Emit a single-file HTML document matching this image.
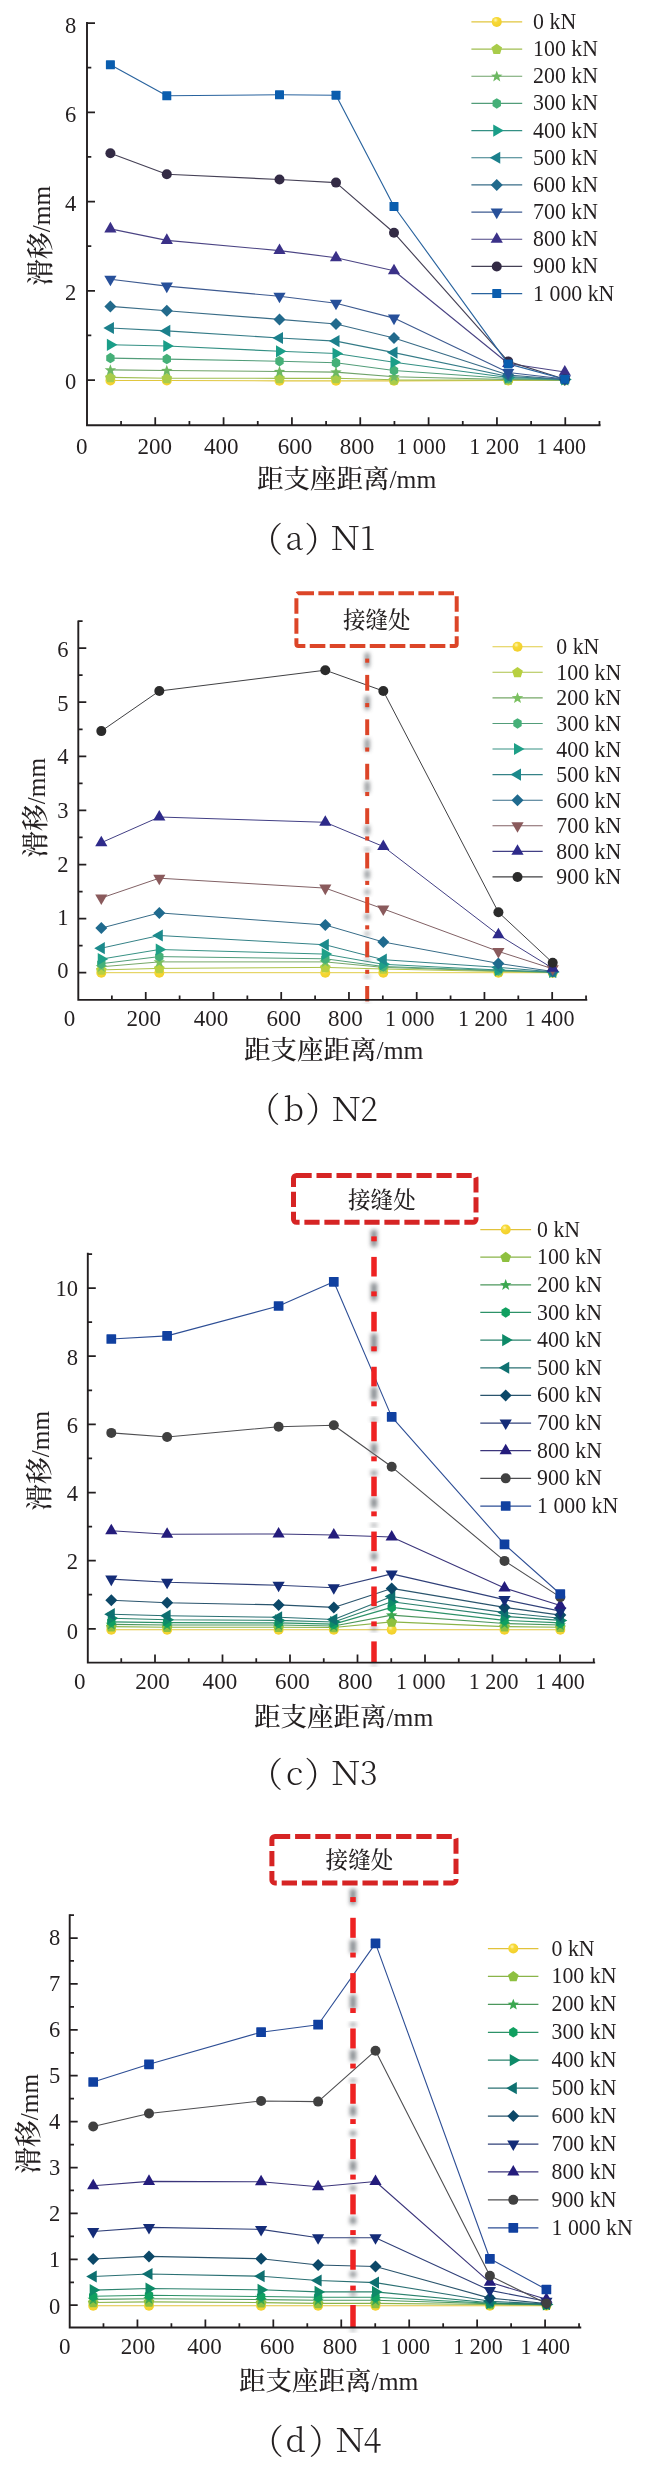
<!DOCTYPE html>
<html lang="zh"><head><meta charset="utf-8"><title>滑移分布</title>
<style>
html,body{margin:0;padding:0;background:#fff}
svg{display:block;opacity:0.999}
text{font-family:"Liberation Serif","Noto Serif CJK SC",serif;fill:#231f20}
.cj{font-family:"Liberation Serif","Noto Serif CJK SC",serif;font-weight:500}
.lt{font-family:"Liberation Serif",serif;font-weight:400}
.cap{font-family:"Noto Serif CJK SC","Liberation Serif",serif;font-weight:300}
</style></head><body>
<svg width="645" height="2482" viewBox="0 0 645 2482">
<defs>
<radialGradient id="gy" cx="0.38" cy="0.32" r="0.7"><stop offset="0" stop-color="#fff6b8"/><stop offset="0.35" stop-color="#f7d936"/><stop offset="1" stop-color="#f2cf2c"/></radialGradient>
<filter id="bl" x="-150%" y="-60%" width="400%" height="220%"><feGaussianBlur stdDeviation="2"/></filter>
</defs>
<rect width="645" height="2482" fill="#fff"/>
<polyline points="110.4,380.5 166.8,380.5 279.5,380.8 336.0,380.8 394.0,380.8 508.2,380.5 564.8,380.5" fill="none" stroke="#e1c63e" stroke-width="1.15" stroke-linejoin="round"/>
<circle cx="110.40" cy="380.50" r="5.00" fill="url(#gy)"/>
<circle cx="166.80" cy="380.50" r="5.00" fill="url(#gy)"/>
<circle cx="279.50" cy="380.80" r="5.00" fill="url(#gy)"/>
<circle cx="336.00" cy="380.80" r="5.00" fill="url(#gy)"/>
<circle cx="394.00" cy="380.80" r="5.00" fill="url(#gy)"/>
<circle cx="508.20" cy="380.50" r="5.00" fill="url(#gy)"/>
<circle cx="564.80" cy="380.50" r="5.00" fill="url(#gy)"/>
<polyline points="110.4,377.4 166.8,378.3 279.5,378.3 336.0,378.3 394.0,379.8 508.2,380.0 564.8,380.0" fill="none" stroke="#a0be51" stroke-width="1.15" stroke-linejoin="round"/>
<polygon points="110.40,372.05 115.77,375.95 113.72,382.27 107.08,382.27 105.03,375.95" fill="#a9cc4a"/>
<polygon points="166.80,372.95 172.17,376.85 170.12,383.17 163.48,383.17 161.43,376.85" fill="#a9cc4a"/>
<polygon points="279.50,372.95 284.87,376.85 282.82,383.17 276.18,383.17 274.13,376.85" fill="#a9cc4a"/>
<polygon points="336.00,372.95 341.37,376.85 339.32,383.17 332.68,383.17 330.63,376.85" fill="#a9cc4a"/>
<polygon points="394.00,374.45 399.37,378.35 397.32,384.67 390.68,384.67 388.63,378.35" fill="#a9cc4a"/>
<polygon points="508.20,374.65 513.57,378.55 511.52,384.87 504.88,384.87 502.83,378.55" fill="#a9cc4a"/>
<polygon points="564.80,374.65 570.17,378.55 568.12,384.87 561.48,384.87 559.43,378.55" fill="#a9cc4a"/>
<polyline points="110.4,369.9 166.8,370.5 279.5,371.5 336.0,372.1 394.0,376.7 508.2,379.5 564.8,380.0" fill="none" stroke="#6ea269" stroke-width="1.15" stroke-linejoin="round"/>
<polygon points="110.40,364.20 111.88,368.16 116.11,368.35 112.80,370.98 113.93,375.05 110.40,372.72 106.87,375.05 108.00,370.98 104.69,368.35 108.92,368.16" fill="#6db862"/>
<polygon points="166.80,364.80 168.28,368.76 172.51,368.95 169.20,371.58 170.33,375.65 166.80,373.32 163.27,375.65 164.40,371.58 161.09,368.95 165.32,368.76" fill="#6db862"/>
<polygon points="279.50,365.80 280.98,369.76 285.21,369.95 281.90,372.58 283.03,376.65 279.50,374.32 275.97,376.65 277.10,372.58 273.79,369.95 278.02,369.76" fill="#6db862"/>
<polygon points="336.00,366.40 337.48,370.36 341.71,370.55 338.40,373.18 339.53,377.25 336.00,374.92 332.47,377.25 333.60,373.18 330.29,370.55 334.52,370.36" fill="#6db862"/>
<polygon points="394.00,371.00 395.48,374.96 399.71,375.15 396.40,377.78 397.53,381.85 394.00,379.52 390.47,381.85 391.60,377.78 388.29,375.15 392.52,374.96" fill="#6db862"/>
<polygon points="508.20,373.80 509.68,377.76 513.91,377.95 510.60,380.58 511.73,384.65 508.20,382.32 504.67,384.65 505.80,380.58 502.49,377.95 506.72,377.76" fill="#6db862"/>
<polygon points="564.80,374.30 566.28,378.26 570.51,378.45 567.20,381.08 568.33,385.15 564.80,382.82 561.27,385.15 562.40,381.08 559.09,378.45 563.32,378.26" fill="#6db862"/>
<polyline points="110.4,358.1 166.8,359.1 279.5,361.2 336.0,362.8 394.0,370.5 508.2,378.5 564.8,380.0" fill="none" stroke="#529d79" stroke-width="1.15" stroke-linejoin="round"/>
<polygon points="110.40,352.85 114.58,355.48 114.58,360.73 110.40,363.35 106.22,360.73 106.22,355.48" fill="#45b078"/>
<polygon points="166.80,353.85 170.98,356.48 170.98,361.73 166.80,364.35 162.62,361.73 162.62,356.48" fill="#45b078"/>
<polygon points="279.50,355.95 283.68,358.57 283.68,363.82 279.50,366.45 275.32,363.82 275.32,358.57" fill="#45b078"/>
<polygon points="336.00,357.55 340.18,360.18 340.18,365.43 336.00,368.05 331.82,365.43 331.82,360.18" fill="#45b078"/>
<polygon points="394.00,365.25 398.18,367.88 398.18,373.12 394.00,375.75 389.82,373.12 389.82,367.88" fill="#45b078"/>
<polygon points="508.20,373.25 512.38,375.88 512.38,381.12 508.20,383.75 504.02,381.12 504.02,375.88" fill="#45b078"/>
<polygon points="564.80,374.75 568.98,377.38 568.98,382.62 564.80,385.25 560.62,382.62 560.62,377.38" fill="#45b078"/>
<polyline points="110.4,344.8 166.8,346.0 279.5,351.3 336.0,353.5 394.0,362.2 508.2,377.5 564.8,379.5" fill="none" stroke="#349084" stroke-width="1.15" stroke-linejoin="round"/>
<polygon points="117.44,344.80 106.88,338.70 106.88,350.90" fill="#1a9e88"/>
<polygon points="173.84,346.00 163.28,339.90 163.28,352.10" fill="#1a9e88"/>
<polygon points="286.54,351.30 275.98,345.20 275.98,357.40" fill="#1a9e88"/>
<polygon points="343.04,353.50 332.48,347.40 332.48,359.60" fill="#1a9e88"/>
<polygon points="401.04,362.20 390.48,356.10 390.48,368.30" fill="#1a9e88"/>
<polygon points="515.24,377.50 504.68,371.40 504.68,383.60" fill="#1a9e88"/>
<polygon points="571.84,379.50 561.28,373.40 561.28,385.60" fill="#1a9e88"/>
<polyline points="110.4,328.0 166.8,330.9 279.5,338.0 336.0,341.1 394.0,352.6 508.2,376.5 564.8,379.5" fill="none" stroke="#347b87" stroke-width="1.15" stroke-linejoin="round"/>
<polygon points="103.36,328.00 113.92,321.90 113.92,334.10" fill="#1b808c"/>
<polygon points="159.76,330.90 170.32,324.80 170.32,337.00" fill="#1b808c"/>
<polygon points="272.46,338.00 283.02,331.90 283.02,344.10" fill="#1b808c"/>
<polygon points="328.96,341.10 339.52,335.00 339.52,347.20" fill="#1b808c"/>
<polygon points="386.96,352.60 397.52,346.50 397.52,358.70" fill="#1b808c"/>
<polygon points="501.16,376.50 511.72,370.40 511.72,382.60" fill="#1b808c"/>
<polygon points="557.76,379.50 568.32,373.40 568.32,385.60" fill="#1b808c"/>
<polyline points="110.4,306.4 166.8,310.7 279.5,319.4 336.0,324.0 394.0,338.0 508.2,375.0 564.8,379.5" fill="none" stroke="#396c87" stroke-width="1.15" stroke-linejoin="round"/>
<polygon points="110.40,300.40 116.40,306.40 110.40,312.40 104.40,306.40" fill="#226a8c"/>
<polygon points="166.80,304.70 172.80,310.70 166.80,316.70 160.80,310.70" fill="#226a8c"/>
<polygon points="279.50,313.40 285.50,319.40 279.50,325.40 273.50,319.40" fill="#226a8c"/>
<polygon points="336.00,318.00 342.00,324.00 336.00,330.00 330.00,324.00" fill="#226a8c"/>
<polygon points="394.00,332.00 400.00,338.00 394.00,344.00 388.00,338.00" fill="#226a8c"/>
<polygon points="508.20,369.00 514.20,375.00 508.20,381.00 502.20,375.00" fill="#226a8c"/>
<polygon points="564.80,373.50 570.80,379.50 564.80,385.50 558.80,379.50" fill="#226a8c"/>
<polyline points="110.4,279.3 166.8,286.1 279.5,296.3 336.0,303.2 394.0,318.1 508.2,372.5 564.8,379.0" fill="none" stroke="#3d5a90" stroke-width="1.15" stroke-linejoin="round"/>
<polygon points="110.40,286.34 116.50,275.78 104.30,275.78" fill="#27509a"/>
<polygon points="166.80,293.14 172.90,282.58 160.70,282.58" fill="#27509a"/>
<polygon points="279.50,303.34 285.60,292.78 273.40,292.78" fill="#27509a"/>
<polygon points="336.00,310.24 342.10,299.68 329.90,299.68" fill="#27509a"/>
<polygon points="394.00,325.14 400.10,314.58 387.90,314.58" fill="#27509a"/>
<polygon points="508.20,379.54 514.30,368.98 502.10,368.98" fill="#27509a"/>
<polygon points="564.80,386.04 570.90,375.48 558.70,375.48" fill="#27509a"/>
<polyline points="110.4,228.9 166.8,240.4 279.5,250.6 336.0,257.7 394.0,270.8 508.2,363.5 564.8,372.0" fill="none" stroke="#4b4484" stroke-width="1.15" stroke-linejoin="round"/>
<polygon points="110.40,221.86 116.50,232.42 104.30,232.42" fill="#3b3188"/>
<polygon points="166.80,233.36 172.90,243.92 160.70,243.92" fill="#3b3188"/>
<polygon points="279.50,243.56 285.60,254.12 273.40,254.12" fill="#3b3188"/>
<polygon points="336.00,250.66 342.10,261.22 329.90,261.22" fill="#3b3188"/>
<polygon points="394.00,263.76 400.10,274.32 387.90,274.32" fill="#3b3188"/>
<polygon points="508.20,356.46 514.30,367.02 502.10,367.02" fill="#3b3188"/>
<polygon points="564.80,364.96 570.90,375.52 558.70,375.52" fill="#3b3188"/>
<polyline points="110.4,153.2 166.8,174.3 279.5,179.5 336.0,182.6 394.0,232.8 508.2,361.4 564.8,379.3" fill="none" stroke="#454055" stroke-width="1.15" stroke-linejoin="round"/>
<circle cx="110.40" cy="153.20" r="5.00" fill="#332b45"/>
<circle cx="166.80" cy="174.30" r="5.00" fill="#332b45"/>
<circle cx="279.50" cy="179.50" r="5.00" fill="#332b45"/>
<circle cx="336.00" cy="182.60" r="5.00" fill="#332b45"/>
<circle cx="394.00" cy="232.80" r="5.00" fill="#332b45"/>
<circle cx="508.20" cy="361.40" r="5.00" fill="#332b45"/>
<circle cx="564.80" cy="379.30" r="5.00" fill="#332b45"/>
<polyline points="110.4,64.8 166.8,95.8 279.5,94.8 336.0,95.2 394.0,206.5 508.2,363.9 564.8,379.3" fill="none" stroke="#29639e" stroke-width="1.15" stroke-linejoin="round"/>
<rect x="105.90" y="60.30" width="9.00" height="9.00" rx="0.6" fill="#0a5dae"/>
<rect x="162.30" y="91.30" width="9.00" height="9.00" rx="0.6" fill="#0a5dae"/>
<rect x="275.00" y="90.30" width="9.00" height="9.00" rx="0.6" fill="#0a5dae"/>
<rect x="331.50" y="90.70" width="9.00" height="9.00" rx="0.6" fill="#0a5dae"/>
<rect x="389.50" y="202.00" width="9.00" height="9.00" rx="0.6" fill="#0a5dae"/>
<rect x="503.70" y="359.40" width="9.00" height="9.00" rx="0.6" fill="#0a5dae"/>
<rect x="560.30" y="374.80" width="9.00" height="9.00" rx="0.6" fill="#0a5dae"/>
<path d="M87.00 22.05V425.30H600.55" fill="none" stroke="#231f20" stroke-width="1.90" stroke-linejoin="miter"/>
<path d="M87.00 380.00h8.00M87.00 290.75h8.00M87.00 201.50h8.00M87.00 112.25h8.00M87.00 23.00h8.00M87.00 335.38h4.30M87.00 246.12h4.30M87.00 156.88h4.30M87.00 67.62h4.30M121.07 425.30v-4.30M155.24 425.30v-8.00M189.41 425.30v-4.30M223.58 425.30v-8.00M257.75 425.30v-4.30M291.92 425.30v-8.00M326.09 425.30v-4.30M360.26 425.30v-8.00M394.43 425.30v-4.30M428.60 425.30v-8.00M462.77 425.30v-4.30M496.94 425.30v-8.00M531.11 425.30v-4.30M565.28 425.30v-8.00M599.45 425.30v-4.30" fill="none" stroke="#231f20" stroke-width="1.75"/>
<text transform="translate(76.20 388.60) scale(0.940 1)" font-size="24.00" text-anchor="end">0</text>
<text transform="translate(76.20 300.35) scale(0.940 1)" font-size="24.00" text-anchor="end">2</text>
<text transform="translate(76.20 211.10) scale(0.940 1)" font-size="24.00" text-anchor="end">4</text>
<text transform="translate(76.20 121.85) scale(0.940 1)" font-size="24.00" text-anchor="end">6</text>
<text transform="translate(76.20 32.60) scale(0.940 1)" font-size="24.00" text-anchor="end">8</text>
<text transform="translate(81.70 454.00) scale(0.960 1)" font-size="24.00" text-anchor="middle">0</text>
<text transform="translate(154.80 454.00) scale(0.960 1)" font-size="24.00" text-anchor="middle">200</text>
<text transform="translate(221.20 454.00) scale(0.960 1)" font-size="24.00" text-anchor="middle">400</text>
<text transform="translate(295.00 454.00) scale(0.960 1)" font-size="24.00" text-anchor="middle">600</text>
<text transform="translate(357.10 454.00) scale(0.960 1)" font-size="24.00" text-anchor="middle">800</text>
<text transform="translate(421.10 454.00) scale(0.920 1)" font-size="24.00" text-anchor="middle">1 000</text>
<text transform="translate(494.10 454.00) scale(0.920 1)" font-size="24.00" text-anchor="middle">1 200</text>
<text transform="translate(561.30 454.00) scale(0.920 1)" font-size="24.00" text-anchor="middle">1 400</text>
<text x="257.00" y="487.50" font-size="26.5" class="cj">距支座距离<tspan class="lt" font-size="25.5">/mm</tspan></text>
<text transform="translate(50.10 235.80) rotate(-90)" text-anchor="middle" font-size="26.8" class="cj">滑移<tspan class="lt" font-size="25.3">/mm</tspan></text>
<text class="cap" y="549.80"><tspan x="248.50" dy="1.7" font-size="34.5">（</tspan><tspan x="285.41" dy="-1.7" font-size="32.5">a</tspan><tspan x="304.19" dy="1.7" font-size="34.5">）</tspan><tspan x="330.40" dy="-1.7" font-size="32.5" textLength="29.60" lengthAdjust="spacingAndGlyphs">N</tspan><tspan x="359.97" font-size="32.5">1</tspan></text>
<line x1="471.40" x2="522.20" y1="21.90" y2="21.90" stroke="#e1c63e" stroke-width="1.15"/>
<circle cx="496.75" cy="21.90" r="5.00" fill="url(#gy)"/>
<text transform="translate(533.10 28.95) scale(0.950 1)" font-size="23.00" text-anchor="start">0 kN</text>
<line x1="471.40" x2="522.20" y1="49.07" y2="49.07" stroke="#a0be51" stroke-width="1.15"/>
<polygon points="496.75,43.72 502.12,47.62 500.07,53.94 493.43,53.94 491.38,47.62" fill="#a9cc4a"/>
<text transform="translate(533.10 56.12) scale(0.950 1)" font-size="23.00" text-anchor="start">100 kN</text>
<line x1="471.40" x2="522.20" y1="76.24" y2="76.24" stroke="#6ea269" stroke-width="1.15"/>
<polygon points="496.75,70.54 498.23,74.50 502.46,74.69 499.15,77.32 500.28,81.39 496.75,79.06 493.22,81.39 494.35,77.32 491.04,74.69 495.27,74.50" fill="#6db862"/>
<text transform="translate(533.10 83.29) scale(0.950 1)" font-size="23.00" text-anchor="start">200 kN</text>
<line x1="471.40" x2="522.20" y1="103.41" y2="103.41" stroke="#529d79" stroke-width="1.15"/>
<polygon points="496.75,98.16 500.93,100.78 500.93,106.03 496.75,108.66 492.57,106.03 492.57,100.78" fill="#45b078"/>
<text transform="translate(533.10 110.46) scale(0.950 1)" font-size="23.00" text-anchor="start">300 kN</text>
<line x1="471.40" x2="522.20" y1="130.58" y2="130.58" stroke="#349084" stroke-width="1.15"/>
<polygon points="503.79,130.58 493.23,124.48 493.23,136.68" fill="#1a9e88"/>
<text transform="translate(533.10 137.63) scale(0.950 1)" font-size="23.00" text-anchor="start">400 kN</text>
<line x1="471.40" x2="522.20" y1="157.75" y2="157.75" stroke="#347b87" stroke-width="1.15"/>
<polygon points="489.71,157.75 500.27,151.65 500.27,163.85" fill="#1b808c"/>
<text transform="translate(533.10 164.80) scale(0.950 1)" font-size="23.00" text-anchor="start">500 kN</text>
<line x1="471.40" x2="522.20" y1="184.92" y2="184.92" stroke="#396c87" stroke-width="1.15"/>
<polygon points="496.75,178.92 502.75,184.92 496.75,190.92 490.75,184.92" fill="#226a8c"/>
<text transform="translate(533.10 191.97) scale(0.950 1)" font-size="23.00" text-anchor="start">600 kN</text>
<line x1="471.40" x2="522.20" y1="212.09" y2="212.09" stroke="#3d5a90" stroke-width="1.15"/>
<polygon points="496.75,219.13 502.85,208.57 490.65,208.57" fill="#27509a"/>
<text transform="translate(533.10 219.14) scale(0.950 1)" font-size="23.00" text-anchor="start">700 kN</text>
<line x1="471.40" x2="522.20" y1="239.26" y2="239.26" stroke="#4b4484" stroke-width="1.15"/>
<polygon points="496.75,232.22 502.85,242.78 490.65,242.78" fill="#3b3188"/>
<text transform="translate(533.10 246.31) scale(0.950 1)" font-size="23.00" text-anchor="start">800 kN</text>
<line x1="471.40" x2="522.20" y1="266.43" y2="266.43" stroke="#454055" stroke-width="1.15"/>
<circle cx="496.75" cy="266.43" r="5.00" fill="#332b45"/>
<text transform="translate(533.10 273.48) scale(0.950 1)" font-size="23.00" text-anchor="start">900 kN</text>
<line x1="471.40" x2="522.20" y1="293.60" y2="293.60" stroke="#29639e" stroke-width="1.15"/>
<rect x="492.25" y="289.10" width="9.00" height="9.00" rx="0.6" fill="#0a5dae"/>
<text transform="translate(533.10 300.65) scale(0.950 1)" font-size="23.00" text-anchor="start">1 000 kN</text>
<polyline points="101.3,972.7 159.3,972.7 325.3,972.7 383.3,972.7 498.4,972.7 552.7,972.7" fill="none" stroke="#e1cc45" stroke-width="1.00" stroke-linejoin="round"/>
<circle cx="101.30" cy="972.70" r="5.00" fill="url(#gy)"/>
<circle cx="159.30" cy="972.70" r="5.00" fill="url(#gy)"/>
<circle cx="325.30" cy="972.70" r="5.00" fill="url(#gy)"/>
<circle cx="383.30" cy="972.70" r="5.00" fill="url(#gy)"/>
<circle cx="498.40" cy="972.70" r="5.00" fill="url(#gy)"/>
<circle cx="552.70" cy="972.70" r="5.00" fill="url(#gy)"/>
<polyline points="101.3,969.9 159.3,968.4 325.3,967.4 383.3,969.0 498.4,971.5 552.7,972.5" fill="none" stroke="#adc249" stroke-width="1.00" stroke-linejoin="round"/>
<polygon points="101.30,964.55 106.67,968.45 104.62,974.77 97.98,974.77 95.93,968.45" fill="#b8d040"/>
<polygon points="159.30,963.05 164.67,966.95 162.62,973.27 155.98,973.27 153.93,966.95" fill="#b8d040"/>
<polygon points="325.30,962.05 330.67,965.95 328.62,972.27 321.98,972.27 319.93,965.95" fill="#b8d040"/>
<polygon points="383.30,963.65 388.67,967.55 386.62,973.87 379.98,973.87 377.93,967.55" fill="#b8d040"/>
<polygon points="498.40,966.15 503.77,970.05 501.72,976.37 495.08,976.37 493.03,970.05" fill="#b8d040"/>
<polygon points="552.70,967.15 558.07,971.05 556.02,977.37 549.38,977.37 547.33,971.05" fill="#b8d040"/>
<polyline points="101.3,966.8 159.3,961.9 325.3,961.9 383.3,967.4 498.4,971.0 552.7,972.3" fill="none" stroke="#77a868" stroke-width="1.00" stroke-linejoin="round"/>
<polygon points="101.30,961.10 102.78,965.06 107.01,965.25 103.70,967.88 104.83,971.95 101.30,969.62 97.77,971.95 98.90,967.88 95.59,965.25 99.82,965.06" fill="#7ac060"/>
<polygon points="159.30,956.20 160.78,960.16 165.01,960.35 161.70,962.98 162.83,967.05 159.30,964.72 155.77,967.05 156.90,962.98 153.59,960.35 157.82,960.16" fill="#7ac060"/>
<polygon points="325.30,956.20 326.78,960.16 331.01,960.35 327.70,962.98 328.83,967.05 325.30,964.72 321.77,967.05 322.90,962.98 319.59,960.35 323.82,960.16" fill="#7ac060"/>
<polygon points="383.30,961.70 384.78,965.66 389.01,965.85 385.70,968.48 386.83,972.55 383.30,970.22 379.77,972.55 380.90,968.48 377.59,965.85 381.82,965.66" fill="#7ac060"/>
<polygon points="498.40,965.30 499.88,969.26 504.11,969.45 500.80,972.08 501.93,976.15 498.40,973.82 494.87,976.15 496.00,972.08 492.69,969.45 496.92,969.26" fill="#7ac060"/>
<polygon points="552.70,966.60 554.18,970.56 558.41,970.75 555.10,973.38 556.23,977.45 552.70,975.12 549.17,977.45 550.30,973.38 546.99,970.75 551.22,970.56" fill="#7ac060"/>
<polyline points="101.3,963.7 159.3,956.6 325.3,958.8 383.3,966.5 498.4,970.5 552.7,972.2" fill="none" stroke="#529d79" stroke-width="1.00" stroke-linejoin="round"/>
<polygon points="101.30,958.45 105.48,961.08 105.48,966.33 101.30,968.95 97.12,966.33 97.12,961.08" fill="#45b078"/>
<polygon points="159.30,951.35 163.48,953.98 163.48,959.23 159.30,961.85 155.12,959.23 155.12,953.98" fill="#45b078"/>
<polygon points="325.30,953.55 329.48,956.17 329.48,961.42 325.30,964.05 321.12,961.42 321.12,956.17" fill="#45b078"/>
<polygon points="383.30,961.25 387.48,963.88 387.48,969.12 383.30,971.75 379.12,969.12 379.12,963.88" fill="#45b078"/>
<polygon points="498.40,965.25 502.58,967.88 502.58,973.12 498.40,975.75 494.22,973.12 494.22,967.88" fill="#45b078"/>
<polygon points="552.70,966.95 556.88,969.58 556.88,974.83 552.70,977.45 548.52,974.83 548.52,969.58" fill="#45b078"/>
<polyline points="101.3,959.1 159.3,949.5 325.3,954.1 383.3,964.3 498.4,970.0 552.7,972.0" fill="none" stroke="#379284" stroke-width="1.00" stroke-linejoin="round"/>
<polygon points="108.34,959.10 97.78,953.00 97.78,965.20" fill="#1fa088"/>
<polygon points="166.34,949.50 155.78,943.40 155.78,955.60" fill="#1fa088"/>
<polygon points="332.34,954.10 321.78,948.00 321.78,960.20" fill="#1fa088"/>
<polygon points="390.34,964.30 379.78,958.20 379.78,970.40" fill="#1fa088"/>
<polygon points="505.44,970.00 494.88,963.90 494.88,976.10" fill="#1fa088"/>
<polygon points="559.74,972.00 549.18,965.90 549.18,978.10" fill="#1fa088"/>
<polyline points="101.3,948.2 159.3,935.5 325.3,944.8 383.3,959.7 498.4,967.4 552.7,971.8" fill="none" stroke="#358287" stroke-width="1.00" stroke-linejoin="round"/>
<polygon points="94.26,948.20 104.82,942.10 104.82,954.30" fill="#1c8a8c"/>
<polygon points="152.26,935.50 162.82,929.40 162.82,941.60" fill="#1c8a8c"/>
<polygon points="318.26,944.80 328.82,938.70 328.82,950.90" fill="#1c8a8c"/>
<polygon points="376.26,959.70 386.82,953.60 386.82,965.80" fill="#1c8a8c"/>
<polygon points="491.36,967.40 501.92,961.30 501.92,973.50" fill="#1c8a8c"/>
<polygon points="545.66,971.80 556.22,965.70 556.22,977.90" fill="#1c8a8c"/>
<polyline points="101.3,928.1 159.3,912.9 325.3,925.0 383.3,942.0 498.4,963.4 552.7,971.5" fill="none" stroke="#376c88" stroke-width="1.00" stroke-linejoin="round"/>
<polygon points="101.30,922.10 107.30,928.10 101.30,934.10 95.30,928.10" fill="#1f6a8e"/>
<polygon points="159.30,906.90 165.30,912.90 159.30,918.90 153.30,912.90" fill="#1f6a8e"/>
<polygon points="325.30,919.00 331.30,925.00 325.30,931.00 319.30,925.00" fill="#1f6a8e"/>
<polygon points="383.30,936.00 389.30,942.00 383.30,948.00 377.30,942.00" fill="#1f6a8e"/>
<polygon points="498.40,957.40 504.40,963.40 498.40,969.40 492.40,963.40" fill="#1f6a8e"/>
<polygon points="552.70,965.50 558.70,971.50 552.70,977.50 546.70,971.50" fill="#1f6a8e"/>
<polyline points="101.3,898.0 159.3,878.2 325.3,888.1 383.3,908.9 498.4,951.4 552.7,968.8" fill="none" stroke="#826165" stroke-width="1.00" stroke-linejoin="round"/>
<polygon points="101.30,905.04 107.40,894.48 95.20,894.48" fill="#8a5a5c"/>
<polygon points="159.30,885.24 165.40,874.68 153.20,874.68" fill="#8a5a5c"/>
<polygon points="325.30,895.14 331.40,884.58 319.20,884.58" fill="#8a5a5c"/>
<polygon points="383.30,915.94 389.40,905.38 377.20,905.38" fill="#8a5a5c"/>
<polygon points="498.40,958.44 504.50,947.88 492.30,947.88" fill="#8a5a5c"/>
<polygon points="552.70,975.84 558.80,965.28 546.60,965.28" fill="#8a5a5c"/>
<polyline points="101.3,842.7 159.3,817.0 325.3,822.3 383.3,846.5 498.4,934.8 552.7,968.3" fill="none" stroke="#423f85" stroke-width="1.00" stroke-linejoin="round"/>
<polygon points="101.30,835.66 107.40,846.22 95.20,846.22" fill="#2e2a8a"/>
<polygon points="159.30,809.96 165.40,820.52 153.20,820.52" fill="#2e2a8a"/>
<polygon points="325.30,815.26 331.40,825.82 319.20,825.82" fill="#2e2a8a"/>
<polygon points="383.30,839.46 389.40,850.02 377.20,850.02" fill="#2e2a8a"/>
<polygon points="498.40,927.76 504.50,938.32 492.30,938.32" fill="#2e2a8a"/>
<polygon points="552.70,961.26 558.80,971.82 546.60,971.82" fill="#2e2a8a"/>
<polyline points="101.3,731.1 159.3,691.0 325.3,670.2 383.3,691.0 498.4,912.2 552.7,962.8" fill="none" stroke="#404043" stroke-width="1.00" stroke-linejoin="round"/>
<circle cx="101.30" cy="731.10" r="5.00" fill="#2b2b2b"/>
<circle cx="159.30" cy="691.00" r="5.00" fill="#2b2b2b"/>
<circle cx="325.30" cy="670.20" r="5.00" fill="#2b2b2b"/>
<circle cx="383.30" cy="691.00" r="5.00" fill="#2b2b2b"/>
<circle cx="498.40" cy="912.20" r="5.00" fill="#2b2b2b"/>
<circle cx="552.70" cy="962.80" r="5.00" fill="#2b2b2b"/>
<rect x="296.40" y="593.30" width="160.30" height="52.70" rx="2.0" fill="none" stroke="#dc4528" stroke-width="4.00" stroke-dasharray="15.6 4.4" stroke-dashoffset="0"/>
<text x="376.80" y="628.00" font-size="22.6" font-weight="500" text-anchor="middle" class="cj">接缝处</text>
<rect x="364.90" y="653.00" width="4.60" height="14.00" fill="#7c8084" opacity="0.9" filter="url(#bl)"/>
<rect x="364.90" y="695.90" width="4.60" height="13.80" fill="#7c8084" opacity="0.9" filter="url(#bl)"/>
<rect x="364.90" y="738.70" width="4.60" height="11.90" fill="#7c8084" opacity="0.9" filter="url(#bl)"/>
<rect x="364.90" y="781.50" width="4.60" height="11.00" fill="#7c8084" opacity="0.9" filter="url(#bl)"/>
<rect x="364.90" y="825.60" width="4.60" height="8.70" fill="#7c8084" opacity="0.9" filter="url(#bl)"/>
<rect x="364.90" y="848.00" width="4.60" height="3.00" fill="#7c8084" opacity="0.9" filter="url(#bl)"/>
<rect x="364.90" y="870.30" width="4.60" height="8.20" fill="#7c8084" opacity="0.9" filter="url(#bl)"/>
<rect x="364.90" y="889.80" width="4.60" height="4.50" fill="#7c8084" opacity="0.9" filter="url(#bl)"/>
<rect x="364.90" y="914.00" width="4.60" height="5.50" fill="#7c8084" opacity="0.9" filter="url(#bl)"/>
<rect x="364.90" y="932.20" width="4.60" height="3.10" fill="#7c8084" opacity="0.9" filter="url(#bl)"/>
<rect x="364.90" y="958.50" width="4.60" height="2.50" fill="#7c8084" opacity="0.9" filter="url(#bl)"/>
<rect x="364.90" y="975.40" width="4.60" height="2.60" fill="#7c8084" opacity="0.9" filter="url(#bl)"/>
<rect x="364.90" y="1002.40" width="4.60" height="1.00" fill="#7c8084" opacity="0.9" filter="url(#bl)"/>
<rect x="365.20" y="674.90" width="4.00" height="15.80" fill="#dc4528"/>
<rect x="365.20" y="658.60" width="4.00" height="4.10" fill="#dc4528"/>
<rect x="365.20" y="719.34" width="4.00" height="15.80" fill="#dc4528"/>
<rect x="365.20" y="703.05" width="4.00" height="4.10" fill="#dc4528"/>
<rect x="365.20" y="763.78" width="4.00" height="15.80" fill="#dc4528"/>
<rect x="365.20" y="747.50" width="4.00" height="4.10" fill="#dc4528"/>
<rect x="365.20" y="808.22" width="4.00" height="15.80" fill="#dc4528"/>
<rect x="365.20" y="791.95" width="4.00" height="4.10" fill="#dc4528"/>
<rect x="365.20" y="852.66" width="4.00" height="15.80" fill="#dc4528"/>
<rect x="365.20" y="836.40" width="4.00" height="4.10" fill="#dc4528"/>
<rect x="365.20" y="897.10" width="4.00" height="15.80" fill="#dc4528"/>
<rect x="365.20" y="880.85" width="4.00" height="4.10" fill="#dc4528"/>
<rect x="365.20" y="941.54" width="4.00" height="15.80" fill="#dc4528"/>
<rect x="365.20" y="925.30" width="4.00" height="4.10" fill="#dc4528"/>
<rect x="365.20" y="986.00" width="4.00" height="15.40" fill="#dc4528"/>
<rect x="365.20" y="969.75" width="4.00" height="4.10" fill="#dc4528"/>
<path d="M78.30 620.55V999.90H587.25" fill="none" stroke="#231f20" stroke-width="1.90" stroke-linejoin="miter"/>
<path d="M78.30 972.70h8.00M78.30 918.60h8.00M78.30 864.50h8.00M78.30 810.40h8.00M78.30 756.30h8.00M78.30 702.20h8.00M78.30 648.10h8.00M78.30 945.65h4.30M78.30 891.55h4.30M78.30 837.45h4.30M78.30 783.35h4.30M78.30 729.25h4.30M78.30 675.15h4.30M78.30 621.05h4.30M111.87 999.90v-4.30M145.74 999.90v-8.00M179.61 999.90v-4.30M213.48 999.90v-8.00M247.35 999.90v-4.30M281.22 999.90v-8.00M315.09 999.90v-4.30M348.96 999.90v-8.00M382.83 999.90v-4.30M416.70 999.90v-8.00M450.57 999.90v-4.30M484.44 999.90v-8.00M518.31 999.90v-4.30M552.18 999.90v-8.00M586.05 999.90v-4.30" fill="none" stroke="#231f20" stroke-width="1.75"/>
<text transform="translate(68.60 978.10) scale(0.940 1)" font-size="24.00" text-anchor="end">0</text>
<text transform="translate(68.60 924.80) scale(0.940 1)" font-size="24.00" text-anchor="end">1</text>
<text transform="translate(68.60 871.60) scale(0.940 1)" font-size="24.00" text-anchor="end">2</text>
<text transform="translate(68.60 818.00) scale(0.940 1)" font-size="24.00" text-anchor="end">3</text>
<text transform="translate(68.60 764.30) scale(0.940 1)" font-size="24.00" text-anchor="end">4</text>
<text transform="translate(68.60 710.70) scale(0.940 1)" font-size="24.00" text-anchor="end">5</text>
<text transform="translate(68.60 657.10) scale(0.940 1)" font-size="24.00" text-anchor="end">6</text>
<text transform="translate(69.50 1025.60) scale(0.960 1)" font-size="24.00" text-anchor="middle">0</text>
<text transform="translate(143.75 1025.60) scale(0.960 1)" font-size="24.00" text-anchor="middle">200</text>
<text transform="translate(211.00 1025.60) scale(0.960 1)" font-size="24.00" text-anchor="middle">400</text>
<text transform="translate(283.70 1025.60) scale(0.960 1)" font-size="24.00" text-anchor="middle">600</text>
<text transform="translate(345.40 1025.60) scale(0.960 1)" font-size="24.00" text-anchor="middle">800</text>
<text transform="translate(409.80 1025.60) scale(0.920 1)" font-size="24.00" text-anchor="middle">1 000</text>
<text transform="translate(482.80 1025.60) scale(0.920 1)" font-size="24.00" text-anchor="middle">1 200</text>
<text transform="translate(549.60 1025.60) scale(0.920 1)" font-size="24.00" text-anchor="middle">1 400</text>
<text x="244.10" y="1059.40" font-size="26.5" class="cj">距支座距离<tspan class="lt" font-size="25.5">/mm</tspan></text>
<text transform="translate(44.80 807.80) rotate(-90)" text-anchor="middle" font-size="26.8" class="cj">滑移<tspan class="lt" font-size="25.3">/mm</tspan></text>
<text class="cap" y="1120.50"><tspan x="246.00" dy="1.7" font-size="34.5">（</tspan><tspan x="283.40" dy="-1.7" font-size="32.5">b</tspan><tspan x="305.19" dy="1.7" font-size="34.5">）</tspan><tspan x="331.61" dy="-1.7" font-size="32.5" textLength="29.60" lengthAdjust="spacingAndGlyphs">N</tspan><tspan x="360.07" font-size="32.5">2</tspan></text>
<line x1="492.50" x2="542.70" y1="646.70" y2="646.70" stroke="#e1cc45" stroke-width="1.10"/>
<circle cx="517.50" cy="646.70" r="5.00" fill="url(#gy)"/>
<text transform="translate(556.30 654.25) scale(0.950 1)" font-size="23.00" text-anchor="start">0 kN</text>
<line x1="492.50" x2="542.70" y1="672.28" y2="672.28" stroke="#adc249" stroke-width="1.10"/>
<polygon points="517.50,666.93 522.87,670.83 520.82,677.15 514.18,677.15 512.13,670.83" fill="#b8d040"/>
<text transform="translate(556.30 679.83) scale(0.950 1)" font-size="23.00" text-anchor="start">100 kN</text>
<line x1="492.50" x2="542.70" y1="697.86" y2="697.86" stroke="#77a868" stroke-width="1.10"/>
<polygon points="517.50,692.16 518.98,696.12 523.21,696.31 519.90,698.94 521.03,703.01 517.50,700.68 513.97,703.01 515.10,698.94 511.79,696.31 516.02,696.12" fill="#7ac060"/>
<text transform="translate(556.30 705.41) scale(0.950 1)" font-size="23.00" text-anchor="start">200 kN</text>
<line x1="492.50" x2="542.70" y1="723.44" y2="723.44" stroke="#529d79" stroke-width="1.10"/>
<polygon points="517.50,718.19 521.68,720.82 521.68,726.07 517.50,728.69 513.32,726.07 513.32,720.82" fill="#45b078"/>
<text transform="translate(556.30 730.99) scale(0.950 1)" font-size="23.00" text-anchor="start">300 kN</text>
<line x1="492.50" x2="542.70" y1="749.02" y2="749.02" stroke="#379284" stroke-width="1.10"/>
<polygon points="524.54,749.02 513.98,742.92 513.98,755.12" fill="#1fa088"/>
<text transform="translate(556.30 756.57) scale(0.950 1)" font-size="23.00" text-anchor="start">400 kN</text>
<line x1="492.50" x2="542.70" y1="774.60" y2="774.60" stroke="#358287" stroke-width="1.10"/>
<polygon points="510.46,774.60 521.02,768.50 521.02,780.70" fill="#1c8a8c"/>
<text transform="translate(556.30 782.15) scale(0.950 1)" font-size="23.00" text-anchor="start">500 kN</text>
<line x1="492.50" x2="542.70" y1="800.18" y2="800.18" stroke="#376c88" stroke-width="1.10"/>
<polygon points="517.50,794.18 523.50,800.18 517.50,806.18 511.50,800.18" fill="#1f6a8e"/>
<text transform="translate(556.30 807.73) scale(0.950 1)" font-size="23.00" text-anchor="start">600 kN</text>
<line x1="492.50" x2="542.70" y1="825.76" y2="825.76" stroke="#826165" stroke-width="1.10"/>
<polygon points="517.50,832.80 523.60,822.24 511.40,822.24" fill="#8a5a5c"/>
<text transform="translate(556.30 833.31) scale(0.950 1)" font-size="23.00" text-anchor="start">700 kN</text>
<line x1="492.50" x2="542.70" y1="851.34" y2="851.34" stroke="#423f85" stroke-width="1.10"/>
<polygon points="517.50,844.30 523.60,854.86 511.40,854.86" fill="#2e2a8a"/>
<text transform="translate(556.30 858.89) scale(0.950 1)" font-size="23.00" text-anchor="start">800 kN</text>
<line x1="492.50" x2="542.70" y1="876.92" y2="876.92" stroke="#404043" stroke-width="1.10"/>
<circle cx="517.50" cy="876.92" r="5.00" fill="#2b2b2b"/>
<text transform="translate(556.30 884.47) scale(0.950 1)" font-size="23.00" text-anchor="start">900 kN</text>
<polyline points="111.3,1629.7 167.1,1629.7 278.6,1629.7 333.8,1629.7 391.7,1629.7 504.5,1629.7 560.3,1629.7" fill="none" stroke="#e1c23b" stroke-width="1.10" stroke-linejoin="round"/>
<circle cx="111.30" cy="1629.70" r="5.00" fill="url(#gy)"/>
<circle cx="167.10" cy="1629.70" r="5.00" fill="url(#gy)"/>
<circle cx="278.60" cy="1629.70" r="5.00" fill="url(#gy)"/>
<circle cx="333.80" cy="1629.70" r="5.00" fill="url(#gy)"/>
<circle cx="391.70" cy="1629.70" r="5.00" fill="url(#gy)"/>
<circle cx="504.50" cy="1629.70" r="5.00" fill="url(#gy)"/>
<circle cx="560.30" cy="1629.70" r="5.00" fill="url(#gy)"/>
<polyline points="111.3,1626.6 167.1,1627.2 278.6,1627.2 333.8,1627.5 391.7,1621.9 504.5,1626.6 560.3,1627.2" fill="none" stroke="#8ab449" stroke-width="1.10" stroke-linejoin="round"/>
<polygon points="111.30,1621.25 116.67,1625.15 114.62,1631.47 107.98,1631.47 105.93,1625.15" fill="#8ec040"/>
<polygon points="167.10,1621.85 172.47,1625.75 170.42,1632.07 163.78,1632.07 161.73,1625.75" fill="#8ec040"/>
<polygon points="278.60,1621.85 283.97,1625.75 281.92,1632.07 275.28,1632.07 273.23,1625.75" fill="#8ec040"/>
<polygon points="333.80,1622.15 339.17,1626.05 337.12,1632.37 330.48,1632.37 328.43,1626.05" fill="#8ec040"/>
<polygon points="391.70,1616.55 397.07,1620.45 395.02,1626.77 388.38,1626.77 386.33,1620.45" fill="#8ec040"/>
<polygon points="504.50,1621.25 509.87,1625.15 507.82,1631.47 501.18,1631.47 499.13,1625.15" fill="#8ec040"/>
<polygon points="560.30,1621.85 565.67,1625.75 563.62,1632.07 556.98,1632.07 554.93,1625.75" fill="#8ec040"/>
<polyline points="111.3,1624.4 167.1,1625.0 278.6,1625.0 333.8,1626.0 391.7,1615.1 504.5,1623.5 560.3,1625.0" fill="none" stroke="#4c975d" stroke-width="1.10" stroke-linejoin="round"/>
<polygon points="111.30,1618.70 112.78,1622.66 117.01,1622.85 113.70,1625.48 114.83,1629.55 111.30,1627.22 107.77,1629.55 108.90,1625.48 105.59,1622.85 109.82,1622.66" fill="#3ca850"/>
<polygon points="167.10,1619.30 168.58,1623.26 172.81,1623.45 169.50,1626.08 170.63,1630.15 167.10,1627.82 163.57,1630.15 164.70,1626.08 161.39,1623.45 165.62,1623.26" fill="#3ca850"/>
<polygon points="278.60,1619.30 280.08,1623.26 284.31,1623.45 281.00,1626.08 282.13,1630.15 278.60,1627.82 275.07,1630.15 276.20,1626.08 272.89,1623.45 277.12,1623.26" fill="#3ca850"/>
<polygon points="333.80,1620.30 335.28,1624.26 339.51,1624.45 336.20,1627.08 337.33,1631.15 333.80,1628.82 330.27,1631.15 331.40,1627.08 328.09,1624.45 332.32,1624.26" fill="#3ca850"/>
<polygon points="391.70,1609.40 393.18,1613.36 397.41,1613.55 394.10,1616.18 395.23,1620.25 391.70,1617.92 388.17,1620.25 389.30,1616.18 385.99,1613.55 390.22,1613.36" fill="#3ca850"/>
<polygon points="504.50,1617.80 505.98,1621.76 510.21,1621.95 506.90,1624.58 508.03,1628.65 504.50,1626.32 500.97,1628.65 502.10,1624.58 498.79,1621.95 503.02,1621.76" fill="#3ca850"/>
<polygon points="560.30,1619.30 561.78,1623.26 566.01,1623.45 562.70,1626.08 563.83,1630.15 560.30,1627.82 556.77,1630.15 557.90,1626.08 554.59,1623.45 558.82,1623.26" fill="#3ca850"/>
<polyline points="111.3,1621.9 167.1,1622.6 278.6,1622.9 333.8,1624.1 391.7,1607.4 504.5,1620.4 560.3,1622.9" fill="none" stroke="#2d9268" stroke-width="1.10" stroke-linejoin="round"/>
<polygon points="111.30,1616.65 115.48,1619.28 115.48,1624.53 111.30,1627.15 107.12,1624.53 107.12,1619.28" fill="#10a060"/>
<polygon points="167.10,1617.35 171.28,1619.97 171.28,1625.22 167.10,1627.85 162.92,1625.22 162.92,1619.97" fill="#10a060"/>
<polygon points="278.60,1617.65 282.78,1620.28 282.78,1625.53 278.60,1628.15 274.42,1625.53 274.42,1620.28" fill="#10a060"/>
<polygon points="333.80,1618.85 337.98,1621.47 337.98,1626.72 333.80,1629.35 329.62,1626.72 329.62,1621.47" fill="#10a060"/>
<polygon points="391.70,1602.15 395.88,1604.78 395.88,1610.03 391.70,1612.65 387.52,1610.03 387.52,1604.78" fill="#10a060"/>
<polygon points="504.50,1615.15 508.68,1617.78 508.68,1623.03 504.50,1625.65 500.32,1623.03 500.32,1617.78" fill="#10a060"/>
<polygon points="560.30,1617.65 564.48,1620.28 564.48,1625.53 560.30,1628.15 556.12,1625.53 556.12,1620.28" fill="#10a060"/>
<polyline points="111.3,1618.2 167.1,1619.8 278.6,1620.4 333.8,1622.0 391.7,1601.8 504.5,1616.4 560.3,1620.4" fill="none" stroke="#2b826d" stroke-width="1.10" stroke-linejoin="round"/>
<polygon points="118.34,1618.20 107.78,1612.10 107.78,1624.30" fill="#0e8a68"/>
<polygon points="174.14,1619.80 163.58,1613.70 163.58,1625.90" fill="#0e8a68"/>
<polygon points="285.64,1620.40 275.08,1614.30 275.08,1626.50" fill="#0e8a68"/>
<polygon points="340.84,1622.00 330.28,1615.90 330.28,1628.10" fill="#0e8a68"/>
<polygon points="398.74,1601.80 388.18,1595.70 388.18,1607.90" fill="#0e8a68"/>
<polygon points="511.54,1616.40 500.98,1610.30 500.98,1622.50" fill="#0e8a68"/>
<polygon points="567.34,1620.40 556.78,1614.30 556.78,1626.50" fill="#0e8a68"/>
<polyline points="111.3,1614.2 167.1,1615.7 278.6,1617.3 333.8,1619.5 391.7,1596.5 504.5,1612.6 560.3,1618.2" fill="none" stroke="#2b7073" stroke-width="1.10" stroke-linejoin="round"/>
<polygon points="104.26,1614.20 114.82,1608.10 114.82,1620.30" fill="#0e7070"/>
<polygon points="160.06,1615.70 170.62,1609.60 170.62,1621.80" fill="#0e7070"/>
<polygon points="271.56,1617.30 282.12,1611.20 282.12,1623.40" fill="#0e7070"/>
<polygon points="326.76,1619.50 337.32,1613.40 337.32,1625.60" fill="#0e7070"/>
<polygon points="384.66,1596.50 395.22,1590.40 395.22,1602.60" fill="#0e7070"/>
<polygon points="497.46,1612.60 508.02,1606.50 508.02,1618.70" fill="#0e7070"/>
<polygon points="553.26,1618.20 563.82,1612.10 563.82,1624.30" fill="#0e7070"/>
<polyline points="111.3,1600.2 167.1,1602.7 278.6,1604.9 333.8,1607.4 391.7,1588.4 504.5,1607.4 560.3,1615.1" fill="none" stroke="#2a546d" stroke-width="1.10" stroke-linejoin="round"/>
<polygon points="111.30,1594.20 117.30,1600.20 111.30,1606.20 105.30,1600.20" fill="#0c4868"/>
<polygon points="167.10,1596.70 173.10,1602.70 167.10,1608.70 161.10,1602.70" fill="#0c4868"/>
<polygon points="278.60,1598.90 284.60,1604.90 278.60,1610.90 272.60,1604.90" fill="#0c4868"/>
<polygon points="333.80,1601.40 339.80,1607.40 333.80,1613.40 327.80,1607.40" fill="#0c4868"/>
<polygon points="391.70,1582.40 397.70,1588.40 391.70,1594.40 385.70,1588.40" fill="#0c4868"/>
<polygon points="504.50,1601.40 510.50,1607.40 504.50,1613.40 498.50,1607.40" fill="#0c4868"/>
<polygon points="560.30,1609.10 566.30,1615.10 560.30,1621.10 554.30,1615.10" fill="#0c4868"/>
<polyline points="111.3,1579.1 167.1,1582.2 278.6,1585.3 333.8,1587.8 391.7,1573.9 504.5,1599.6 560.3,1611.1" fill="none" stroke="#304079" stroke-width="1.10" stroke-linejoin="round"/>
<polygon points="111.30,1586.14 117.40,1575.58 105.20,1575.58" fill="#142c78"/>
<polygon points="167.10,1589.24 173.20,1578.68 161.00,1578.68" fill="#142c78"/>
<polygon points="278.60,1592.34 284.70,1581.78 272.50,1581.78" fill="#142c78"/>
<polygon points="333.80,1594.84 339.90,1584.28 327.70,1584.28" fill="#142c78"/>
<polygon points="391.70,1580.94 397.80,1570.38 385.60,1570.38" fill="#142c78"/>
<polygon points="504.50,1606.64 510.60,1596.08 498.40,1596.08" fill="#142c78"/>
<polygon points="560.30,1618.14 566.40,1607.58 554.20,1607.58" fill="#142c78"/>
<polyline points="111.3,1530.7 167.1,1534.3 278.6,1534.0 333.8,1535.0 391.7,1537.0 504.5,1588.0 560.3,1605.5" fill="none" stroke="#3b357b" stroke-width="1.10" stroke-linejoin="round"/>
<polygon points="111.30,1523.66 117.40,1534.22 105.20,1534.22" fill="#241c7c"/>
<polygon points="167.10,1527.26 173.20,1537.82 161.00,1537.82" fill="#241c7c"/>
<polygon points="278.60,1526.96 284.70,1537.52 272.50,1537.52" fill="#241c7c"/>
<polygon points="333.80,1527.96 339.90,1538.52 327.70,1538.52" fill="#241c7c"/>
<polygon points="391.70,1529.96 397.80,1540.52 385.60,1540.52" fill="#241c7c"/>
<polygon points="504.50,1580.96 510.60,1591.52 498.40,1591.52" fill="#241c7c"/>
<polygon points="560.30,1598.46 566.40,1609.02 554.20,1609.02" fill="#241c7c"/>
<polyline points="111.3,1432.9 167.1,1437.0 278.6,1426.7 333.8,1425.3 391.7,1466.8 504.5,1560.9 560.3,1597.1" fill="none" stroke="#4e4e51" stroke-width="1.10" stroke-linejoin="round"/>
<circle cx="111.30" cy="1432.90" r="5.00" fill="#404040"/>
<circle cx="167.10" cy="1437.00" r="5.00" fill="#404040"/>
<circle cx="278.60" cy="1426.70" r="5.00" fill="#404040"/>
<circle cx="333.80" cy="1425.30" r="5.00" fill="#404040"/>
<circle cx="391.70" cy="1466.80" r="5.00" fill="#404040"/>
<circle cx="504.50" cy="1560.90" r="5.00" fill="#404040"/>
<circle cx="560.30" cy="1597.10" r="5.00" fill="#404040"/>
<polyline points="111.3,1339.0 167.1,1335.9 278.6,1306.0 333.8,1281.8 391.7,1416.9 504.5,1544.4 560.3,1594.0" fill="none" stroke="#2d4e95" stroke-width="1.10" stroke-linejoin="round"/>
<rect x="106.45" y="1334.15" width="9.70" height="9.70" rx="0.6" fill="#1040a0"/>
<rect x="162.25" y="1331.05" width="9.70" height="9.70" rx="0.6" fill="#1040a0"/>
<rect x="273.75" y="1301.15" width="9.70" height="9.70" rx="0.6" fill="#1040a0"/>
<rect x="328.95" y="1276.95" width="9.70" height="9.70" rx="0.6" fill="#1040a0"/>
<rect x="386.85" y="1412.05" width="9.70" height="9.70" rx="0.6" fill="#1040a0"/>
<rect x="499.65" y="1539.55" width="9.70" height="9.70" rx="0.6" fill="#1040a0"/>
<rect x="555.45" y="1589.15" width="9.70" height="9.70" rx="0.6" fill="#1040a0"/>
<rect x="293.50" y="1175.40" width="182.50" height="46.90" rx="3.0" fill="none" stroke="#d62424" stroke-width="5.00" stroke-dasharray="15.2 4.8" stroke-dashoffset="0"/>
<text x="381.90" y="1207.50" font-size="22.6" font-weight="500" text-anchor="middle" class="cj">接缝处</text>
<rect x="370.95" y="1230.00" width="6.10" height="16.60" fill="#7c8084" opacity="0.9" filter="url(#bl)"/>
<rect x="370.95" y="1283.00" width="6.10" height="17.50" fill="#7c8084" opacity="0.9" filter="url(#bl)"/>
<rect x="370.95" y="1333.70" width="6.10" height="18.00" fill="#7c8084" opacity="0.9" filter="url(#bl)"/>
<rect x="370.95" y="1387.20" width="6.10" height="12.80" fill="#7c8084" opacity="0.9" filter="url(#bl)"/>
<rect x="370.95" y="1417.90" width="6.10" height="3.10" fill="#7c8084" opacity="0.9" filter="url(#bl)"/>
<rect x="370.95" y="1443.30" width="6.10" height="10.60" fill="#7c8084" opacity="0.9" filter="url(#bl)"/>
<rect x="370.95" y="1470.80" width="6.10" height="4.50" fill="#7c8084" opacity="0.9" filter="url(#bl)"/>
<rect x="370.95" y="1497.70" width="6.10" height="10.10" fill="#7c8084" opacity="0.9" filter="url(#bl)"/>
<rect x="370.95" y="1523.80" width="6.10" height="2.60" fill="#7c8084" opacity="0.9" filter="url(#bl)"/>
<rect x="370.95" y="1552.60" width="6.10" height="7.30" fill="#7c8084" opacity="0.9" filter="url(#bl)"/>
<rect x="370.95" y="1607.00" width="6.10" height="2.00" fill="#7c8084" opacity="0.9" filter="url(#bl)"/>
<rect x="370.95" y="1627.50" width="6.10" height="3.10" fill="#7c8084" opacity="0.9" filter="url(#bl)"/>
<rect x="370.95" y="1664.00" width="6.10" height="1.50" fill="#7c8084" opacity="0.9" filter="url(#bl)"/>
<rect x="371.25" y="1256.90" width="5.50" height="19.60" fill="#ee2222"/>
<rect x="371.25" y="1236.40" width="5.50" height="4.90" fill="#ee2222"/>
<rect x="371.25" y="1311.83" width="5.50" height="19.60" fill="#ee2222"/>
<rect x="371.25" y="1291.40" width="5.50" height="4.90" fill="#ee2222"/>
<rect x="371.25" y="1366.76" width="5.50" height="19.60" fill="#ee2222"/>
<rect x="371.25" y="1346.40" width="5.50" height="4.90" fill="#ee2222"/>
<rect x="371.25" y="1421.69" width="5.50" height="19.60" fill="#ee2222"/>
<rect x="371.25" y="1401.40" width="5.50" height="4.90" fill="#ee2222"/>
<rect x="371.25" y="1476.62" width="5.50" height="19.60" fill="#ee2222"/>
<rect x="371.25" y="1456.40" width="5.50" height="4.90" fill="#ee2222"/>
<rect x="371.25" y="1531.55" width="5.50" height="19.60" fill="#ee2222"/>
<rect x="371.25" y="1511.40" width="5.50" height="4.90" fill="#ee2222"/>
<rect x="371.25" y="1586.48" width="5.50" height="19.60" fill="#ee2222"/>
<rect x="371.25" y="1566.40" width="5.50" height="4.90" fill="#ee2222"/>
<rect x="371.25" y="1641.40" width="5.50" height="21.20" fill="#ee2222"/>
<rect x="371.25" y="1621.40" width="5.50" height="4.90" fill="#ee2222"/>
<path d="M87.80 1252.85V1662.60H595.15" fill="none" stroke="#231f20" stroke-width="1.90" stroke-linejoin="miter"/>
<path d="M87.80 1628.80h8.00M87.80 1560.66h8.00M87.80 1492.52h8.00M87.80 1424.38h8.00M87.80 1356.24h8.00M87.80 1288.10h8.00M87.80 1594.73h4.30M87.80 1526.59h4.30M87.80 1458.45h4.30M87.80 1390.31h4.30M87.80 1322.17h4.30M87.80 1254.03h4.30M121.25 1662.60v-4.30M155.00 1662.60v-8.00M188.75 1662.60v-4.30M222.50 1662.60v-8.00M256.25 1662.60v-4.30M290.00 1662.60v-8.00M323.75 1662.60v-4.30M357.50 1662.60v-8.00M391.25 1662.60v-4.30M425.00 1662.60v-8.00M458.75 1662.60v-4.30M492.50 1662.60v-8.00M526.25 1662.60v-4.30M560.00 1662.60v-8.00M593.75 1662.60v-4.30" fill="none" stroke="#231f20" stroke-width="1.75"/>
<text transform="translate(78.00 1638.90) scale(0.940 1)" font-size="24.00" text-anchor="end">0</text>
<text transform="translate(78.00 1569.06) scale(0.940 1)" font-size="24.00" text-anchor="end">2</text>
<text transform="translate(78.00 1500.92) scale(0.940 1)" font-size="24.00" text-anchor="end">4</text>
<text transform="translate(78.00 1432.78) scale(0.940 1)" font-size="24.00" text-anchor="end">6</text>
<text transform="translate(78.00 1364.64) scale(0.940 1)" font-size="24.00" text-anchor="end">8</text>
<text transform="translate(78.00 1295.80) scale(0.940 1)" font-size="24.00" text-anchor="end">10</text>
<text transform="translate(79.70 1689.00) scale(0.960 1)" font-size="24.00" text-anchor="middle">0</text>
<text transform="translate(152.60 1689.00) scale(0.960 1)" font-size="24.00" text-anchor="middle">200</text>
<text transform="translate(219.90 1689.00) scale(0.960 1)" font-size="24.00" text-anchor="middle">400</text>
<text transform="translate(292.40 1689.00) scale(0.960 1)" font-size="24.00" text-anchor="middle">600</text>
<text transform="translate(355.20 1689.00) scale(0.960 1)" font-size="24.00" text-anchor="middle">800</text>
<text transform="translate(420.70 1689.00) scale(0.920 1)" font-size="24.00" text-anchor="middle">1 000</text>
<text transform="translate(493.60 1689.00) scale(0.920 1)" font-size="24.00" text-anchor="middle">1 200</text>
<text transform="translate(560.00 1689.00) scale(0.920 1)" font-size="24.00" text-anchor="middle">1 400</text>
<text x="254.00" y="1725.50" font-size="26.5" class="cj">距支座距离<tspan class="lt" font-size="25.5">/mm</tspan></text>
<text transform="translate(48.80 1460.80) rotate(-90)" text-anchor="middle" font-size="26.8" class="cj">滑移<tspan class="lt" font-size="25.3">/mm</tspan></text>
<text class="cap" y="1785.20"><tspan x="248.50" dy="1.7" font-size="34.5">（</tspan><tspan x="286.07" dy="-1.7" font-size="32.5">c</tspan><tspan x="304.19" dy="1.7" font-size="34.5">）</tspan><tspan x="330.90" dy="-1.7" font-size="32.5" textLength="29.60" lengthAdjust="spacingAndGlyphs">N</tspan><tspan x="360.07" font-size="32.5">3</tspan></text>
<line x1="480.30" x2="531.10" y1="1229.50" y2="1229.50" stroke="#e1c23b" stroke-width="1.25"/>
<circle cx="505.70" cy="1229.50" r="5.00" fill="url(#gy)"/>
<text transform="translate(537.00 1236.55) scale(0.950 1)" font-size="23.00" text-anchor="start">0 kN</text>
<line x1="480.30" x2="531.10" y1="1257.15" y2="1257.15" stroke="#8ab449" stroke-width="1.25"/>
<polygon points="505.70,1251.80 511.07,1255.70 509.02,1262.02 502.38,1262.02 500.33,1255.70" fill="#8ec040"/>
<text transform="translate(537.00 1264.20) scale(0.950 1)" font-size="23.00" text-anchor="start">100 kN</text>
<line x1="480.30" x2="531.10" y1="1284.80" y2="1284.80" stroke="#4c975d" stroke-width="1.25"/>
<polygon points="505.70,1279.10 507.18,1283.06 511.41,1283.25 508.10,1285.88 509.23,1289.95 505.70,1287.62 502.17,1289.95 503.30,1285.88 499.99,1283.25 504.22,1283.06" fill="#3ca850"/>
<text transform="translate(537.00 1291.85) scale(0.950 1)" font-size="23.00" text-anchor="start">200 kN</text>
<line x1="480.30" x2="531.10" y1="1312.45" y2="1312.45" stroke="#2d9268" stroke-width="1.25"/>
<polygon points="505.70,1307.20 509.88,1309.83 509.88,1315.08 505.70,1317.70 501.52,1315.08 501.52,1309.83" fill="#10a060"/>
<text transform="translate(537.00 1319.50) scale(0.950 1)" font-size="23.00" text-anchor="start">300 kN</text>
<line x1="480.30" x2="531.10" y1="1340.10" y2="1340.10" stroke="#2b826d" stroke-width="1.25"/>
<polygon points="512.74,1340.10 502.18,1334.00 502.18,1346.20" fill="#0e8a68"/>
<text transform="translate(537.00 1347.15) scale(0.950 1)" font-size="23.00" text-anchor="start">400 kN</text>
<line x1="480.30" x2="531.10" y1="1367.75" y2="1367.75" stroke="#2b7073" stroke-width="1.25"/>
<polygon points="498.66,1367.75 509.22,1361.65 509.22,1373.85" fill="#0e7070"/>
<text transform="translate(537.00 1374.80) scale(0.950 1)" font-size="23.00" text-anchor="start">500 kN</text>
<line x1="480.30" x2="531.10" y1="1395.40" y2="1395.40" stroke="#2a546d" stroke-width="1.25"/>
<polygon points="505.70,1389.40 511.70,1395.40 505.70,1401.40 499.70,1395.40" fill="#0c4868"/>
<text transform="translate(537.00 1402.45) scale(0.950 1)" font-size="23.00" text-anchor="start">600 kN</text>
<line x1="480.30" x2="531.10" y1="1423.05" y2="1423.05" stroke="#304079" stroke-width="1.25"/>
<polygon points="505.70,1430.09 511.80,1419.53 499.60,1419.53" fill="#142c78"/>
<text transform="translate(537.00 1430.10) scale(0.950 1)" font-size="23.00" text-anchor="start">700 kN</text>
<line x1="480.30" x2="531.10" y1="1450.70" y2="1450.70" stroke="#3b357b" stroke-width="1.25"/>
<polygon points="505.70,1443.66 511.80,1454.22 499.60,1454.22" fill="#241c7c"/>
<text transform="translate(537.00 1457.75) scale(0.950 1)" font-size="23.00" text-anchor="start">800 kN</text>
<line x1="480.30" x2="531.10" y1="1478.35" y2="1478.35" stroke="#4e4e51" stroke-width="1.25"/>
<circle cx="505.70" cy="1478.35" r="5.00" fill="#404040"/>
<text transform="translate(537.00 1485.40) scale(0.950 1)" font-size="23.00" text-anchor="start">900 kN</text>
<line x1="480.30" x2="531.10" y1="1506.00" y2="1506.00" stroke="#2d4e95" stroke-width="1.25"/>
<rect x="500.85" y="1501.15" width="9.70" height="9.70" rx="0.6" fill="#1040a0"/>
<text transform="translate(537.00 1513.05) scale(0.950 1)" font-size="23.00" text-anchor="start">1 000 kN</text>
<polyline points="93.2,2305.7 149.0,2305.7 261.1,2305.7 318.1,2305.7 375.5,2305.7 489.9,2305.7 546.4,2305.7" fill="none" stroke="#e1c23b" stroke-width="1.10" stroke-linejoin="round"/>
<circle cx="93.20" cy="2305.70" r="5.00" fill="url(#gy)"/>
<circle cx="149.00" cy="2305.70" r="5.00" fill="url(#gy)"/>
<circle cx="261.10" cy="2305.70" r="5.00" fill="url(#gy)"/>
<circle cx="318.10" cy="2305.70" r="5.00" fill="url(#gy)"/>
<circle cx="375.50" cy="2305.70" r="5.00" fill="url(#gy)"/>
<circle cx="489.90" cy="2305.70" r="5.00" fill="url(#gy)"/>
<circle cx="546.40" cy="2305.70" r="5.00" fill="url(#gy)"/>
<polyline points="93.2,2302.5 149.0,2301.9 261.1,2302.6 318.1,2303.4 375.5,2303.4 489.9,2304.5 546.4,2305.0" fill="none" stroke="#8ab449" stroke-width="1.10" stroke-linejoin="round"/>
<polygon points="93.20,2297.15 98.57,2301.05 96.52,2307.37 89.88,2307.37 87.83,2301.05" fill="#8ec040"/>
<polygon points="149.00,2296.55 154.37,2300.45 152.32,2306.77 145.68,2306.77 143.63,2300.45" fill="#8ec040"/>
<polygon points="261.10,2297.25 266.47,2301.15 264.42,2307.47 257.78,2307.47 255.73,2301.15" fill="#8ec040"/>
<polygon points="318.10,2298.05 323.47,2301.95 321.42,2308.27 314.78,2308.27 312.73,2301.95" fill="#8ec040"/>
<polygon points="375.50,2298.05 380.87,2301.95 378.82,2308.27 372.18,2308.27 370.13,2301.95" fill="#8ec040"/>
<polygon points="489.90,2299.15 495.27,2303.05 493.22,2309.37 486.58,2309.37 484.53,2303.05" fill="#8ec040"/>
<polygon points="546.40,2299.65 551.77,2303.55 549.72,2309.87 543.08,2309.87 541.03,2303.55" fill="#8ec040"/>
<polyline points="93.2,2299.4 149.0,2298.8 261.1,2299.6 318.1,2300.3 375.5,2300.3 489.9,2303.8 546.4,2304.8" fill="none" stroke="#4c975d" stroke-width="1.10" stroke-linejoin="round"/>
<polygon points="93.20,2293.70 94.68,2297.66 98.91,2297.85 95.60,2300.48 96.73,2304.55 93.20,2302.22 89.67,2304.55 90.80,2300.48 87.49,2297.85 91.72,2297.66" fill="#3ca850"/>
<polygon points="149.00,2293.10 150.48,2297.06 154.71,2297.25 151.40,2299.88 152.53,2303.95 149.00,2301.62 145.47,2303.95 146.60,2299.88 143.29,2297.25 147.52,2297.06" fill="#3ca850"/>
<polygon points="261.10,2293.90 262.58,2297.86 266.81,2298.05 263.50,2300.68 264.63,2304.75 261.10,2302.42 257.57,2304.75 258.70,2300.68 255.39,2298.05 259.62,2297.86" fill="#3ca850"/>
<polygon points="318.10,2294.60 319.58,2298.56 323.81,2298.75 320.50,2301.38 321.63,2305.45 318.10,2303.12 314.57,2305.45 315.70,2301.38 312.39,2298.75 316.62,2298.56" fill="#3ca850"/>
<polygon points="375.50,2294.60 376.98,2298.56 381.21,2298.75 377.90,2301.38 379.03,2305.45 375.50,2303.12 371.97,2305.45 373.10,2301.38 369.79,2298.75 374.02,2298.56" fill="#3ca850"/>
<polygon points="489.90,2298.10 491.38,2302.06 495.61,2302.25 492.30,2304.88 493.43,2308.95 489.90,2306.62 486.37,2308.95 487.50,2304.88 484.19,2302.25 488.42,2302.06" fill="#3ca850"/>
<polygon points="546.40,2299.10 547.88,2303.06 552.11,2303.25 548.80,2305.88 549.93,2309.95 546.40,2307.62 542.87,2309.95 544.00,2305.88 540.69,2303.25 544.92,2303.06" fill="#3ca850"/>
<polyline points="93.2,2296.3 149.0,2295.3 261.1,2296.5 318.1,2297.2 375.5,2297.2 489.9,2303.2 546.4,2304.6" fill="none" stroke="#2d9268" stroke-width="1.10" stroke-linejoin="round"/>
<polygon points="93.20,2291.05 97.38,2293.68 97.38,2298.93 93.20,2301.55 89.02,2298.93 89.02,2293.68" fill="#10a060"/>
<polygon points="149.00,2290.05 153.18,2292.68 153.18,2297.93 149.00,2300.55 144.82,2297.93 144.82,2292.68" fill="#10a060"/>
<polygon points="261.10,2291.25 265.28,2293.88 265.28,2299.12 261.10,2301.75 256.92,2299.12 256.92,2293.88" fill="#10a060"/>
<polygon points="318.10,2291.95 322.28,2294.57 322.28,2299.82 318.10,2302.45 313.92,2299.82 313.92,2294.57" fill="#10a060"/>
<polygon points="375.50,2291.95 379.68,2294.57 379.68,2299.82 375.50,2302.45 371.32,2299.82 371.32,2294.57" fill="#10a060"/>
<polygon points="489.90,2297.95 494.08,2300.57 494.08,2305.82 489.90,2308.45 485.72,2305.82 485.72,2300.57" fill="#10a060"/>
<polygon points="546.40,2299.35 550.58,2301.97 550.58,2307.22 546.40,2309.85 542.22,2307.22 542.22,2301.97" fill="#10a060"/>
<polyline points="93.2,2290.1 149.0,2288.5 261.1,2289.8 318.1,2291.9 375.5,2291.9 489.9,2302.8 546.4,2304.4" fill="none" stroke="#2b826d" stroke-width="1.10" stroke-linejoin="round"/>
<polygon points="100.24,2290.10 89.68,2284.00 89.68,2296.20" fill="#0e8a68"/>
<polygon points="156.04,2288.50 145.48,2282.40 145.48,2294.60" fill="#0e8a68"/>
<polygon points="268.14,2289.80 257.58,2283.70 257.58,2295.90" fill="#0e8a68"/>
<polygon points="325.14,2291.90 314.58,2285.80 314.58,2298.00" fill="#0e8a68"/>
<polygon points="382.54,2291.90 371.98,2285.80 371.98,2298.00" fill="#0e8a68"/>
<polygon points="496.94,2302.80 486.38,2296.70 486.38,2308.90" fill="#0e8a68"/>
<polygon points="553.44,2304.40 542.88,2298.30 542.88,2310.50" fill="#0e8a68"/>
<polyline points="93.2,2276.5 149.0,2274.0 261.1,2276.2 318.1,2280.5 375.5,2282.6 489.9,2301.2 546.4,2304.0" fill="none" stroke="#2b7073" stroke-width="1.10" stroke-linejoin="round"/>
<polygon points="86.16,2276.50 96.72,2270.40 96.72,2282.60" fill="#0e7070"/>
<polygon points="141.96,2274.00 152.52,2267.90 152.52,2280.10" fill="#0e7070"/>
<polygon points="254.06,2276.20 264.62,2270.10 264.62,2282.30" fill="#0e7070"/>
<polygon points="311.06,2280.50 321.62,2274.40 321.62,2286.60" fill="#0e7070"/>
<polygon points="368.46,2282.60 379.02,2276.50 379.02,2288.70" fill="#0e7070"/>
<polygon points="482.86,2301.20 493.42,2295.10 493.42,2307.30" fill="#0e7070"/>
<polygon points="539.36,2304.00 549.92,2297.90 549.92,2310.10" fill="#0e7070"/>
<polyline points="93.2,2259.0 149.0,2256.4 261.1,2258.7 318.1,2265.0 375.5,2266.5 489.9,2298.1 546.4,2303.5" fill="none" stroke="#2a546d" stroke-width="1.10" stroke-linejoin="round"/>
<polygon points="93.20,2253.00 99.20,2259.00 93.20,2265.00 87.20,2259.00" fill="#0c4868"/>
<polygon points="149.00,2250.40 155.00,2256.40 149.00,2262.40 143.00,2256.40" fill="#0c4868"/>
<polygon points="261.10,2252.70 267.10,2258.70 261.10,2264.70 255.10,2258.70" fill="#0c4868"/>
<polygon points="318.10,2259.00 324.10,2265.00 318.10,2271.00 312.10,2265.00" fill="#0c4868"/>
<polygon points="375.50,2260.50 381.50,2266.50 375.50,2272.50 369.50,2266.50" fill="#0c4868"/>
<polygon points="489.90,2292.10 495.90,2298.10 489.90,2304.10 483.90,2298.10" fill="#0c4868"/>
<polygon points="546.40,2297.50 552.40,2303.50 546.40,2309.50 540.40,2303.50" fill="#0c4868"/>
<polyline points="93.2,2231.5 149.0,2227.4 261.1,2229.4 318.1,2237.7 375.5,2237.7 489.9,2290.4 546.4,2301.2" fill="none" stroke="#304079" stroke-width="1.10" stroke-linejoin="round"/>
<polygon points="93.20,2238.54 99.30,2227.98 87.10,2227.98" fill="#142c78"/>
<polygon points="149.00,2234.44 155.10,2223.88 142.90,2223.88" fill="#142c78"/>
<polygon points="261.10,2236.44 267.20,2225.88 255.00,2225.88" fill="#142c78"/>
<polygon points="318.10,2244.74 324.20,2234.18 312.00,2234.18" fill="#142c78"/>
<polygon points="375.50,2244.74 381.60,2234.18 369.40,2234.18" fill="#142c78"/>
<polygon points="489.90,2297.44 496.00,2286.88 483.80,2286.88" fill="#142c78"/>
<polygon points="546.40,2308.24 552.50,2297.68 540.30,2297.68" fill="#142c78"/>
<polyline points="93.2,2185.8 149.0,2181.4 261.1,2181.7 318.1,2186.8 375.5,2181.5 489.9,2282.3 546.4,2299.3" fill="none" stroke="#3b357b" stroke-width="1.10" stroke-linejoin="round"/>
<polygon points="93.20,2178.76 99.30,2189.32 87.10,2189.32" fill="#241c7c"/>
<polygon points="149.00,2174.36 155.10,2184.92 142.90,2184.92" fill="#241c7c"/>
<polygon points="261.10,2174.66 267.20,2185.22 255.00,2185.22" fill="#241c7c"/>
<polygon points="318.10,2179.76 324.20,2190.32 312.00,2190.32" fill="#241c7c"/>
<polygon points="375.50,2174.46 381.60,2185.02 369.40,2185.02" fill="#241c7c"/>
<polygon points="489.90,2275.26 496.00,2285.82 483.80,2285.82" fill="#241c7c"/>
<polygon points="546.40,2292.26 552.50,2302.82 540.30,2302.82" fill="#241c7c"/>
<polyline points="93.2,2126.5 149.0,2113.5 261.1,2101.0 318.1,2101.6 375.5,2050.7 489.9,2275.8 546.4,2303.4" fill="none" stroke="#4e4e51" stroke-width="1.10" stroke-linejoin="round"/>
<circle cx="93.20" cy="2126.50" r="5.00" fill="#404040"/>
<circle cx="149.00" cy="2113.50" r="5.00" fill="#404040"/>
<circle cx="261.10" cy="2101.00" r="5.00" fill="#404040"/>
<circle cx="318.10" cy="2101.60" r="5.00" fill="#404040"/>
<circle cx="375.50" cy="2050.70" r="5.00" fill="#404040"/>
<circle cx="489.90" cy="2275.80" r="5.00" fill="#404040"/>
<circle cx="546.40" cy="2303.40" r="5.00" fill="#404040"/>
<polyline points="93.2,2082.0 149.0,2064.3 261.1,2032.2 318.1,2024.7 375.5,1943.4 489.9,2258.8 546.4,2289.5" fill="none" stroke="#2d4e95" stroke-width="1.10" stroke-linejoin="round"/>
<rect x="88.35" y="2077.15" width="9.70" height="9.70" rx="0.6" fill="#1040a0"/>
<rect x="144.15" y="2059.45" width="9.70" height="9.70" rx="0.6" fill="#1040a0"/>
<rect x="256.25" y="2027.35" width="9.70" height="9.70" rx="0.6" fill="#1040a0"/>
<rect x="313.25" y="2019.85" width="9.70" height="9.70" rx="0.6" fill="#1040a0"/>
<rect x="370.65" y="1938.55" width="9.70" height="9.70" rx="0.6" fill="#1040a0"/>
<rect x="485.05" y="2253.95" width="9.70" height="9.70" rx="0.6" fill="#1040a0"/>
<rect x="541.55" y="2284.65" width="9.70" height="9.70" rx="0.6" fill="#1040a0"/>
<rect x="271.90" y="1836.40" width="184.10" height="46.50" rx="3.0" fill="none" stroke="#d62424" stroke-width="5.00" stroke-dasharray="15.3 4.9" stroke-dashoffset="0"/>
<text x="359.50" y="1868.00" font-size="22.6" font-weight="500" text-anchor="middle" class="cj">接缝处</text>
<rect x="349.95" y="1889.00" width="6.10" height="15.70" fill="#7c8084" opacity="0.9" filter="url(#bl)"/>
<rect x="349.95" y="1940.20" width="6.10" height="12.80" fill="#7c8084" opacity="0.9" filter="url(#bl)"/>
<rect x="349.95" y="1995.00" width="6.10" height="13.90" fill="#7c8084" opacity="0.9" filter="url(#bl)"/>
<rect x="349.95" y="2023.00" width="6.10" height="3.00" fill="#7c8084" opacity="0.9" filter="url(#bl)"/>
<rect x="349.95" y="2050.00" width="6.10" height="11.00" fill="#7c8084" opacity="0.9" filter="url(#bl)"/>
<rect x="349.95" y="2079.00" width="6.10" height="3.00" fill="#7c8084" opacity="0.9" filter="url(#bl)"/>
<rect x="349.95" y="2106.00" width="6.10" height="10.00" fill="#7c8084" opacity="0.9" filter="url(#bl)"/>
<rect x="349.95" y="2131.00" width="6.10" height="4.60" fill="#7c8084" opacity="0.9" filter="url(#bl)"/>
<rect x="349.95" y="2160.90" width="6.10" height="10.10" fill="#7c8084" opacity="0.9" filter="url(#bl)"/>
<rect x="349.95" y="2186.00" width="6.10" height="4.50" fill="#7c8084" opacity="0.9" filter="url(#bl)"/>
<rect x="349.95" y="2216.70" width="6.10" height="7.30" fill="#7c8084" opacity="0.9" filter="url(#bl)"/>
<rect x="349.95" y="2238.00" width="6.10" height="5.50" fill="#7c8084" opacity="0.9" filter="url(#bl)"/>
<rect x="349.95" y="2271.60" width="6.10" height="5.40" fill="#7c8084" opacity="0.9" filter="url(#bl)"/>
<rect x="349.95" y="2292.00" width="6.10" height="3.60" fill="#7c8084" opacity="0.9" filter="url(#bl)"/>
<rect x="349.95" y="2329.00" width="6.10" height="2.00" fill="#7c8084" opacity="0.9" filter="url(#bl)"/>
<rect x="350.25" y="1917.80" width="5.50" height="20.00" fill="#ee2222"/>
<rect x="350.25" y="1897.10" width="5.50" height="4.90" fill="#ee2222"/>
<rect x="350.25" y="1973.12" width="5.50" height="20.00" fill="#ee2222"/>
<rect x="350.25" y="1952.60" width="5.50" height="4.90" fill="#ee2222"/>
<rect x="350.25" y="2028.44" width="5.50" height="20.00" fill="#ee2222"/>
<rect x="350.25" y="2008.10" width="5.50" height="4.90" fill="#ee2222"/>
<rect x="350.25" y="2083.76" width="5.50" height="20.00" fill="#ee2222"/>
<rect x="350.25" y="2063.60" width="5.50" height="4.90" fill="#ee2222"/>
<rect x="350.25" y="2139.08" width="5.50" height="20.00" fill="#ee2222"/>
<rect x="350.25" y="2119.10" width="5.50" height="4.90" fill="#ee2222"/>
<rect x="350.25" y="2194.40" width="5.50" height="20.00" fill="#ee2222"/>
<rect x="350.25" y="2174.60" width="5.50" height="4.90" fill="#ee2222"/>
<rect x="350.25" y="2249.72" width="5.50" height="20.00" fill="#ee2222"/>
<rect x="350.25" y="2230.10" width="5.50" height="4.90" fill="#ee2222"/>
<rect x="350.25" y="2305.00" width="5.50" height="23.00" fill="#ee2222"/>
<rect x="350.25" y="2285.60" width="5.50" height="4.90" fill="#ee2222"/>
<path d="M69.70 1914.25V2327.50H581.25" fill="none" stroke="#231f20" stroke-width="1.90" stroke-linejoin="miter"/>
<path d="M69.70 2305.20h8.00M69.70 2259.30h8.00M69.70 2213.40h8.00M69.70 2167.50h8.00M69.70 2121.60h8.00M69.70 2075.70h8.00M69.70 2029.80h8.00M69.70 1983.90h8.00M69.70 1938.00h8.00M69.70 2282.25h4.30M69.70 2236.35h4.30M69.70 2190.45h4.30M69.70 2144.55h4.30M69.70 2098.65h4.30M69.70 2052.75h4.30M69.70 2006.85h4.30M69.70 1960.95h4.30M69.70 1915.05h4.30M103.47 2327.50v-4.30M137.44 2327.50v-8.00M171.41 2327.50v-4.30M205.38 2327.50v-8.00M239.35 2327.50v-4.30M273.32 2327.50v-8.00M307.29 2327.50v-4.30M341.26 2327.50v-8.00M375.23 2327.50v-4.30M409.20 2327.50v-8.00M443.17 2327.50v-4.30M477.14 2327.50v-8.00M511.11 2327.50v-4.30M545.08 2327.50v-8.00M579.05 2327.50v-4.30" fill="none" stroke="#231f20" stroke-width="1.75"/>
<text transform="translate(60.30 2313.70) scale(0.940 1)" font-size="24.00" text-anchor="end">0</text>
<text transform="translate(60.30 2266.70) scale(0.940 1)" font-size="24.00" text-anchor="end">1</text>
<text transform="translate(60.30 2220.80) scale(0.940 1)" font-size="24.00" text-anchor="end">2</text>
<text transform="translate(60.30 2174.90) scale(0.940 1)" font-size="24.00" text-anchor="end">3</text>
<text transform="translate(60.30 2129.00) scale(0.940 1)" font-size="24.00" text-anchor="end">4</text>
<text transform="translate(60.30 2083.10) scale(0.940 1)" font-size="24.00" text-anchor="end">5</text>
<text transform="translate(60.30 2037.20) scale(0.940 1)" font-size="24.00" text-anchor="end">6</text>
<text transform="translate(60.30 1991.30) scale(0.940 1)" font-size="24.00" text-anchor="end">7</text>
<text transform="translate(60.30 1945.40) scale(0.940 1)" font-size="24.00" text-anchor="end">8</text>
<text transform="translate(64.70 2354.30) scale(0.960 1)" font-size="24.00" text-anchor="middle">0</text>
<text transform="translate(138.10 2354.30) scale(0.960 1)" font-size="24.00" text-anchor="middle">200</text>
<text transform="translate(204.50 2354.30) scale(0.960 1)" font-size="24.00" text-anchor="middle">400</text>
<text transform="translate(277.20 2354.30) scale(0.960 1)" font-size="24.00" text-anchor="middle">600</text>
<text transform="translate(340.10 2354.30) scale(0.960 1)" font-size="24.00" text-anchor="middle">800</text>
<text transform="translate(405.30 2354.30) scale(0.920 1)" font-size="24.00" text-anchor="middle">1 000</text>
<text transform="translate(478.00 2354.30) scale(0.920 1)" font-size="24.00" text-anchor="middle">1 200</text>
<text transform="translate(545.20 2354.30) scale(0.920 1)" font-size="24.00" text-anchor="middle">1 400</text>
<text x="239.10" y="2390.40" font-size="26.5" class="cj">距支座距离<tspan class="lt" font-size="25.5">/mm</tspan></text>
<text transform="translate(37.90 2123.80) rotate(-90)" text-anchor="middle" font-size="26.8" class="cj">滑移<tspan class="lt" font-size="25.3">/mm</tspan></text>
<text class="cap" y="2451.80"><tspan x="249.20" dy="1.7" font-size="34.5">（</tspan><tspan x="285.57" dy="-1.7" font-size="32.5">d</tspan><tspan x="308.38" dy="1.7" font-size="34.5">）</tspan><tspan x="335.31" dy="-1.7" font-size="32.5" textLength="29.60" lengthAdjust="spacingAndGlyphs">N</tspan><tspan x="363.62" font-size="32.5">4</tspan></text>
<line x1="487.90" x2="538.40" y1="1948.50" y2="1948.50" stroke="#e1c23b" stroke-width="1.25"/>
<circle cx="513.30" cy="1948.50" r="5.00" fill="url(#gy)"/>
<text transform="translate(551.50 1955.55) scale(0.950 1)" font-size="23.00" text-anchor="start">0 kN</text>
<line x1="487.90" x2="538.40" y1="1976.43" y2="1976.43" stroke="#8ab449" stroke-width="1.25"/>
<polygon points="513.30,1971.08 518.67,1974.98 516.62,1981.30 509.98,1981.30 507.93,1974.98" fill="#8ec040"/>
<text transform="translate(551.50 1983.48) scale(0.950 1)" font-size="23.00" text-anchor="start">100 kN</text>
<line x1="487.90" x2="538.40" y1="2004.36" y2="2004.36" stroke="#4c975d" stroke-width="1.25"/>
<polygon points="513.30,1998.66 514.78,2002.62 519.01,2002.81 515.70,2005.44 516.83,2009.51 513.30,2007.18 509.77,2009.51 510.90,2005.44 507.59,2002.81 511.82,2002.62" fill="#3ca850"/>
<text transform="translate(551.50 2011.41) scale(0.950 1)" font-size="23.00" text-anchor="start">200 kN</text>
<line x1="487.90" x2="538.40" y1="2032.29" y2="2032.29" stroke="#2d9268" stroke-width="1.25"/>
<polygon points="513.30,2027.04 517.48,2029.66 517.48,2034.91 513.30,2037.54 509.12,2034.91 509.12,2029.66" fill="#10a060"/>
<text transform="translate(551.50 2039.34) scale(0.950 1)" font-size="23.00" text-anchor="start">300 kN</text>
<line x1="487.90" x2="538.40" y1="2060.22" y2="2060.22" stroke="#2b826d" stroke-width="1.25"/>
<polygon points="520.34,2060.22 509.78,2054.12 509.78,2066.32" fill="#0e8a68"/>
<text transform="translate(551.50 2067.27) scale(0.950 1)" font-size="23.00" text-anchor="start">400 kN</text>
<line x1="487.90" x2="538.40" y1="2088.15" y2="2088.15" stroke="#2b7073" stroke-width="1.25"/>
<polygon points="506.26,2088.15 516.82,2082.05 516.82,2094.25" fill="#0e7070"/>
<text transform="translate(551.50 2095.20) scale(0.950 1)" font-size="23.00" text-anchor="start">500 kN</text>
<line x1="487.90" x2="538.40" y1="2116.08" y2="2116.08" stroke="#2a546d" stroke-width="1.25"/>
<polygon points="513.30,2110.08 519.30,2116.08 513.30,2122.08 507.30,2116.08" fill="#0c4868"/>
<text transform="translate(551.50 2123.13) scale(0.950 1)" font-size="23.00" text-anchor="start">600 kN</text>
<line x1="487.90" x2="538.40" y1="2144.01" y2="2144.01" stroke="#304079" stroke-width="1.25"/>
<polygon points="513.30,2151.05 519.40,2140.49 507.20,2140.49" fill="#142c78"/>
<text transform="translate(551.50 2151.06) scale(0.950 1)" font-size="23.00" text-anchor="start">700 kN</text>
<line x1="487.90" x2="538.40" y1="2171.94" y2="2171.94" stroke="#3b357b" stroke-width="1.25"/>
<polygon points="513.30,2164.90 519.40,2175.46 507.20,2175.46" fill="#241c7c"/>
<text transform="translate(551.50 2178.99) scale(0.950 1)" font-size="23.00" text-anchor="start">800 kN</text>
<line x1="487.90" x2="538.40" y1="2199.87" y2="2199.87" stroke="#4e4e51" stroke-width="1.25"/>
<circle cx="513.30" cy="2199.87" r="5.00" fill="#404040"/>
<text transform="translate(551.50 2206.92) scale(0.950 1)" font-size="23.00" text-anchor="start">900 kN</text>
<line x1="487.90" x2="538.40" y1="2227.80" y2="2227.80" stroke="#2d4e95" stroke-width="1.25"/>
<rect x="508.45" y="2222.95" width="9.70" height="9.70" rx="0.6" fill="#1040a0"/>
<text transform="translate(551.50 2234.85) scale(0.950 1)" font-size="23.00" text-anchor="start">1 000 kN</text>
</svg>
</body></html>
